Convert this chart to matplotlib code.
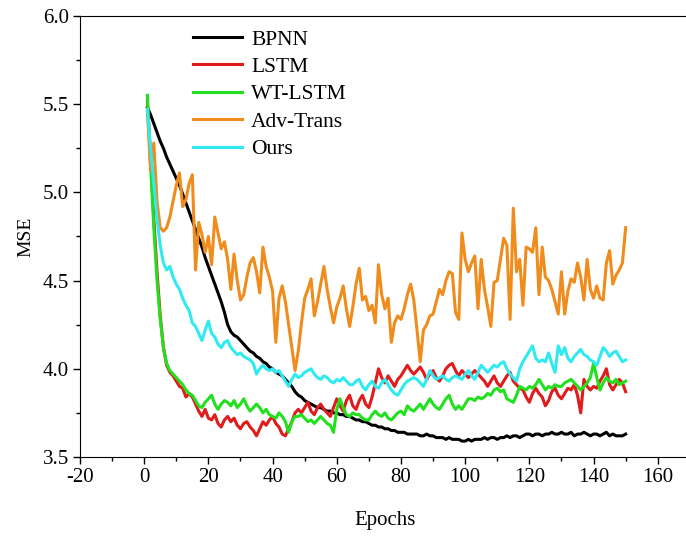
import numpy as np
import matplotlib
matplotlib.use("Agg")
import matplotlib.pyplot as plt
from matplotlib.ticker import MultipleLocator, FormatStrFormatter

# MSE per epoch (epochs 1..150)
epochs = np.arange(1, 151)

bpnn = [5.48, 5.44, 5.39, 5.34, 5.29, 5.25, 5.20, 5.16, 5.12, 5.08,
        5.04, 4.99, 4.94, 4.89, 4.84, 4.79, 4.74, 4.69, 4.63, 4.58,
        4.53, 4.48, 4.43, 4.38, 4.32, 4.25, 4.21, 4.19, 4.18, 4.16,
        4.14, 4.12, 4.10, 4.09, 4.07, 4.06, 4.04, 4.03, 4.01, 4.00,
        3.98, 3.97, 3.96, 3.94, 3.92, 3.90, 3.87, 3.85, 3.84, 3.82,
        3.81, 3.80, 3.79, 3.78, 3.78, 3.77, 3.76, 3.76, 3.75, 3.75,
        3.74, 3.74, 3.73, 3.73, 3.72, 3.71, 3.71, 3.70, 3.70, 3.69,
        3.68, 3.68, 3.67, 3.67, 3.66, 3.66, 3.65, 3.65, 3.64, 3.64,
        3.64, 3.63, 3.63, 3.63, 3.63, 3.62, 3.62, 3.63, 3.62, 3.62,
        3.61, 3.61, 3.61, 3.60, 3.61, 3.60, 3.60, 3.60, 3.59, 3.59,
        3.60, 3.59, 3.60, 3.60, 3.60, 3.61, 3.60, 3.61, 3.61, 3.60,
        3.61, 3.61, 3.62, 3.61, 3.62, 3.62, 3.61, 3.62, 3.63, 3.63,
        3.62, 3.63, 3.63, 3.62, 3.63, 3.63, 3.64, 3.63, 3.63, 3.64,
        3.63, 3.63, 3.64, 3.62, 3.63, 3.63, 3.64, 3.63, 3.62, 3.63,
        3.63, 3.62, 3.63, 3.64, 3.62, 3.63, 3.62, 3.62, 3.62, 3.63]

lstm = [5.52, 5.20, 4.85, 4.55, 4.30, 4.12, 4.02, 3.98, 3.96, 3.93,
        3.90, 3.89, 3.84, 3.86, 3.84, 3.80, 3.76, 3.73, 3.77, 3.72,
        3.71, 3.74, 3.69, 3.67, 3.71, 3.73, 3.70, 3.72, 3.68, 3.66,
        3.69, 3.70, 3.67, 3.65, 3.62, 3.66, 3.70, 3.68, 3.71, 3.73,
        3.69, 3.67, 3.63, 3.62, 3.66, 3.70, 3.75, 3.77, 3.75, 3.78,
        3.81, 3.76, 3.74, 3.78, 3.80, 3.77, 3.75, 3.73, 3.78, 3.83,
        3.79, 3.76, 3.82, 3.85, 3.79, 3.77, 3.82, 3.85, 3.80, 3.78,
        3.84, 3.92, 4.00, 3.95, 3.92, 3.96, 3.93, 3.90, 3.94, 3.96,
        3.99, 4.02, 3.99, 3.97, 3.99, 4.01, 3.98, 3.94, 3.97, 3.99,
        3.95, 3.93, 3.96, 4.00, 4.02, 4.03, 3.99, 3.96, 3.99, 3.97,
        3.95, 3.97, 3.99, 3.97, 3.95, 3.93, 3.90, 3.93, 3.96, 3.92,
        3.90, 3.93, 3.96, 3.98, 3.93, 3.91, 3.89, 3.88, 3.84, 3.81,
        3.86, 3.89, 3.86, 3.84, 3.79, 3.82, 3.87, 3.89, 3.85, 3.83,
        3.86, 3.89, 3.88, 3.91, 3.85, 3.75, 3.94, 3.90, 3.88, 3.90,
        3.89, 3.93, 3.96, 4.00, 3.91, 3.88, 3.91, 3.94, 3.92, 3.87]

wt_lstm = [5.55, 5.15, 4.80, 4.50, 4.28, 4.12, 4.03, 3.99, 3.97, 3.95,
           3.93, 3.91, 3.88, 3.86, 3.85, 3.82, 3.79, 3.78, 3.81, 3.83,
           3.85, 3.80, 3.77, 3.80, 3.82, 3.81, 3.79, 3.82, 3.78, 3.80,
           3.83, 3.79, 3.76, 3.78, 3.80, 3.78, 3.75, 3.77, 3.74, 3.73,
           3.72, 3.75, 3.73, 3.70, 3.64, 3.70, 3.73, 3.73, 3.74, 3.72,
           3.70, 3.71, 3.69, 3.71, 3.73, 3.71, 3.69, 3.68, 3.64, 3.77,
           3.83, 3.78, 3.74, 3.73, 3.75, 3.74, 3.74, 3.72, 3.71, 3.71,
           3.74, 3.76, 3.74, 3.73, 3.75, 3.72, 3.71, 3.73, 3.75, 3.76,
           3.74, 3.79, 3.77, 3.76, 3.78, 3.80, 3.77, 3.80, 3.83, 3.80,
           3.78, 3.77, 3.80, 3.83, 3.85, 3.80, 3.77, 3.79, 3.77, 3.80,
           3.83, 3.83, 3.82, 3.84, 3.83, 3.84, 3.86, 3.85, 3.88, 3.89,
           3.87, 3.88, 3.83, 3.82, 3.81, 3.85, 3.90, 3.89, 3.88, 3.90,
           3.89, 3.91, 3.94, 3.91, 3.88, 3.90, 3.89, 3.91, 3.90, 3.90,
           3.92, 3.93, 3.94, 3.92, 3.90, 3.88, 3.90, 3.92, 3.95, 4.03,
           3.95, 3.88, 3.92, 3.95, 3.93, 3.92, 3.94, 3.91, 3.92, 3.93]

adv_trans = [5.46, 5.12, 5.28, 4.95, 4.80, 4.78, 4.80, 4.86, 4.95, 5.04,
             5.11, 4.92, 4.96, 5.05, 5.10, 4.56, 4.83, 4.76, 4.66, 4.75,
             4.59, 4.86, 4.77, 4.68, 4.72, 4.62, 4.45, 4.65, 4.50, 4.39,
             4.42, 4.52, 4.60, 4.63, 4.55, 4.43, 4.69, 4.58, 4.52, 4.44,
             4.15, 4.40, 4.47, 4.38, 4.25, 4.12, 3.99, 4.10, 4.26, 4.40,
             4.45, 4.51, 4.30, 4.38, 4.48, 4.58, 4.45, 4.35, 4.26, 4.35,
             4.40, 4.47, 4.34, 4.24, 4.35, 4.48, 4.57, 4.39, 4.41, 4.33,
             4.36, 4.26, 4.59, 4.42, 4.34, 4.40, 4.15, 4.26, 4.30, 4.28,
             4.34, 4.42, 4.48, 4.39, 4.22, 4.04, 4.22, 4.25, 4.30, 4.31,
             4.38, 4.45, 4.42, 4.50, 4.55, 4.54, 4.32, 4.28, 4.77, 4.62,
             4.55, 4.60, 4.64, 4.34, 4.62, 4.45, 4.35, 4.24, 4.49, 4.50,
             4.62, 4.74, 4.70, 4.28, 4.91, 4.55, 4.62, 4.36, 4.69, 4.68,
             4.66, 4.80, 4.42, 4.69, 4.52, 4.50, 4.45, 4.38, 4.31, 4.55,
             4.31, 4.44, 4.51, 4.49, 4.60, 4.52, 4.39, 4.62, 4.45, 4.40,
             4.47, 4.40, 4.39, 4.60, 4.67, 4.48, 4.53, 4.56, 4.60, 4.80]

ours = [5.47, 5.25, 5.05, 4.85, 4.70, 4.60, 4.56, 4.58, 4.52, 4.48,
        4.45, 4.40, 4.36, 4.33, 4.26, 4.24, 4.20, 4.16, 4.22, 4.27,
        4.20, 4.18, 4.14, 4.12, 4.15, 4.16, 4.12, 4.10, 4.08, 4.09,
        4.07, 4.06, 4.05, 4.03, 3.97, 4.00, 4.02, 4.00, 3.99, 4.00,
        3.98, 3.99, 3.96, 3.93, 3.90, 3.94, 3.97, 3.95, 3.96, 3.98,
        3.99, 4.00, 3.97, 3.95, 3.94, 3.96, 3.95, 3.93, 3.92, 3.94,
        3.93, 3.95, 3.93, 3.91, 3.91, 3.93, 3.94, 3.90, 3.88, 3.91,
        3.93, 3.90, 3.89, 3.92, 3.94, 3.91, 3.88, 3.86, 3.85, 3.88,
        3.91, 3.93, 3.94, 3.95, 3.94, 3.92, 3.90, 3.94, 3.99, 3.96,
        3.94, 3.95, 3.96, 3.94, 3.93, 3.95, 3.96, 3.95, 3.94, 3.97,
        3.99, 3.96, 3.94, 3.98, 4.02, 4.00, 3.98, 4.00, 4.02, 4.01,
        4.03, 4.04, 4.00, 3.97, 3.95, 3.93, 4.00, 4.04, 4.07, 4.10,
        4.13, 4.06, 4.04, 4.05, 4.04, 4.09, 4.03, 3.98, 4.13, 4.08,
        4.12, 4.06, 4.04, 4.07, 4.09, 4.11, 4.08, 4.07, 4.05, 4.04,
        4.02, 4.07, 4.12, 4.10, 4.07, 4.09, 4.10, 4.07, 4.04, 4.05]

plt.rcParams["font.family"] = ["Liberation Serif", "DejaVu Serif"]
plt.rcParams["axes.unicode_minus"] = False

fig = plt.figure(figsize=(6.86, 5.36), dpi=100)
ax = fig.add_axes([0.1166, 0.1474, 0.889, 0.8228])

lw = 2.2
ax.plot(epochs, bpnn, color="black", lw=lw, label="BPNN")
ax.plot(epochs, lstm, color="#e01b1b", lw=lw, label="LSTM")
ax.plot(epochs, wt_lstm, color="#22e01e", lw=lw, label="WT-LSTM")
ax.plot(epochs, adv_trans, color="#f08c1c", lw=lw, label="Adv-Trans")
ax.plot(epochs, ours, color="#30eaf2", lw=lw, label="Ours")

ax.set_xlim(-20, 170)
ax.set_ylim(3.5, 6.0)
ax.xaxis.set_major_locator(MultipleLocator(20))
ax.xaxis.set_minor_locator(MultipleLocator(10))
ax.yaxis.set_major_locator(MultipleLocator(0.5))
ax.yaxis.set_minor_locator(MultipleLocator(0.25))
ax.yaxis.set_major_formatter(FormatStrFormatter("%.1f"))
ax.tick_params(which="major", direction="out", length=5, width=1, labelsize=15, pad=3)
ax.tick_params(which="minor", direction="out", length=3, width=1)
ax.spines["right"].set_visible(False)

ax.set_xlabel("Epochs", fontsize=15, labelpad=17)
ax.set_ylabel("MSE", fontsize=14, labelpad=6)

ax.legend(loc="upper left", bbox_to_anchor=(0.171, 0.989), frameon=False,
          fontsize=15.5, handlelength=2.3, handletextpad=0.4,
          labelspacing=0.34, borderaxespad=0)

fig.savefig("out.png", dpi=100)
